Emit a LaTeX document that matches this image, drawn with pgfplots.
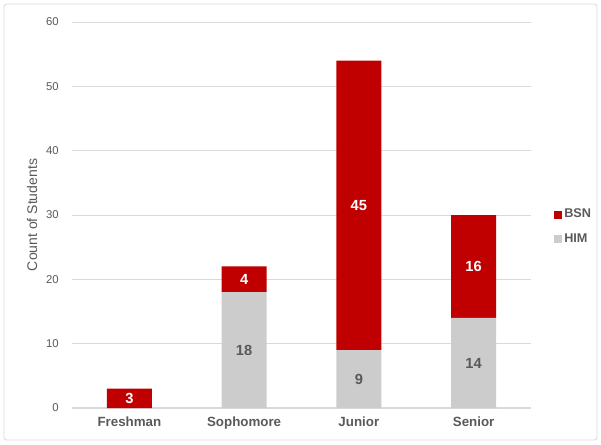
\documentclass[border=0pt]{standalone}
\usepackage{pgfplots}
\pgfplotsset{compat=1.18}
\usepackage{fontspec}
\setmainfont{Liberation Sans}
\definecolor{bsn}{HTML}{C00000}
\definecolor{him}{HTML}{CCCCCC}
\definecolor{txt}{HTML}{595959}
\definecolor{grd}{HTML}{D9D9D9}
\begin{document}
\begin{tikzpicture}
\useasboundingbox (0,0) rectangle (450.75pt,333pt);
\draw[grd, line width=0.6pt, rounded corners=2pt] (3pt,3pt) rectangle (447.75pt,330pt);
\pgfplotsset{common/.style={
  at={(54pt,27pt)}, anchor=south west,
  scale only axis, width=344.25pt, height=289.5pt,
  xmin=-0.5, xmax=3.5, ymin=0, ymax=60,
}}
\begin{axis}[common,
  ybar stacked, bar width=33.75pt,
  axis line style={draw=none},
  axis x line*=bottom,
  x axis line style={draw=grd, line width=0.8pt},
  ytick={0,10,...,60},
  xtick={0,1,2,3},
  xticklabels={Freshman,Sophomore,Junior,Senior},
  xticklabel style={font=\fontsize{10}{12}\selectfont\bfseries, text=txt, yshift=-3pt},
  yticklabel style={font=\fontsize{8.5}{10}\selectfont, text=txt, xshift=-6.5pt},
  /pgf/number format/assume math mode=true,
  tick style={draw=none},
  ymajorgrids, grid style={grd, line width=0.6pt},
  ylabel={Count of Students},
  every axis y label/.style={at={(axis description cs:0,0.5)}, rotate=90, anchor=center, yshift=30pt, font=\fontsize{10.5}{12}\selectfont, text=txt},
  legend style={at={(1.04,0.47)}, anchor=west, draw=none, fill=none,
    font=\fontsize{9.5}{11}\selectfont\bfseries, text=txt, row sep=6pt,
    /tikz/every even column/.append style={column sep=1pt}},
  legend cell align=left,
  reverse legend,
  legend image code/.code={\fill[#1] (0pt,-3pt) rectangle (6pt,3pt);},
]
\addplot[fill=him, draw=none] coordinates {(0,0) (1,18) (2,9) (3,14)};
\addlegendentry{HIM}
\addplot[fill=bsn, draw=none] coordinates {(0,3) (1,4) (2,45) (3,16)};
\addlegendentry{BSN}
\end{axis}
\begin{axis}[common, hide axis,
  nodes near coords, point meta=explicit symbolic,
  every node near coord/.append style={anchor=center, font=\fontsize{11}{13}\selectfont\bfseries}]
\addplot[draw=none, mark=none, nodes near coords style={text=white}] coordinates {(0,1.5)[3] (1,20)[4] (2,31.5)[45] (3,22)[16]};
\addplot[draw=none, mark=none, nodes near coords style={text=txt}] coordinates {(1,9)[18] (2,4.5)[9] (3,7)[14]};
\end{axis}
\end{tikzpicture}
\end{document}
